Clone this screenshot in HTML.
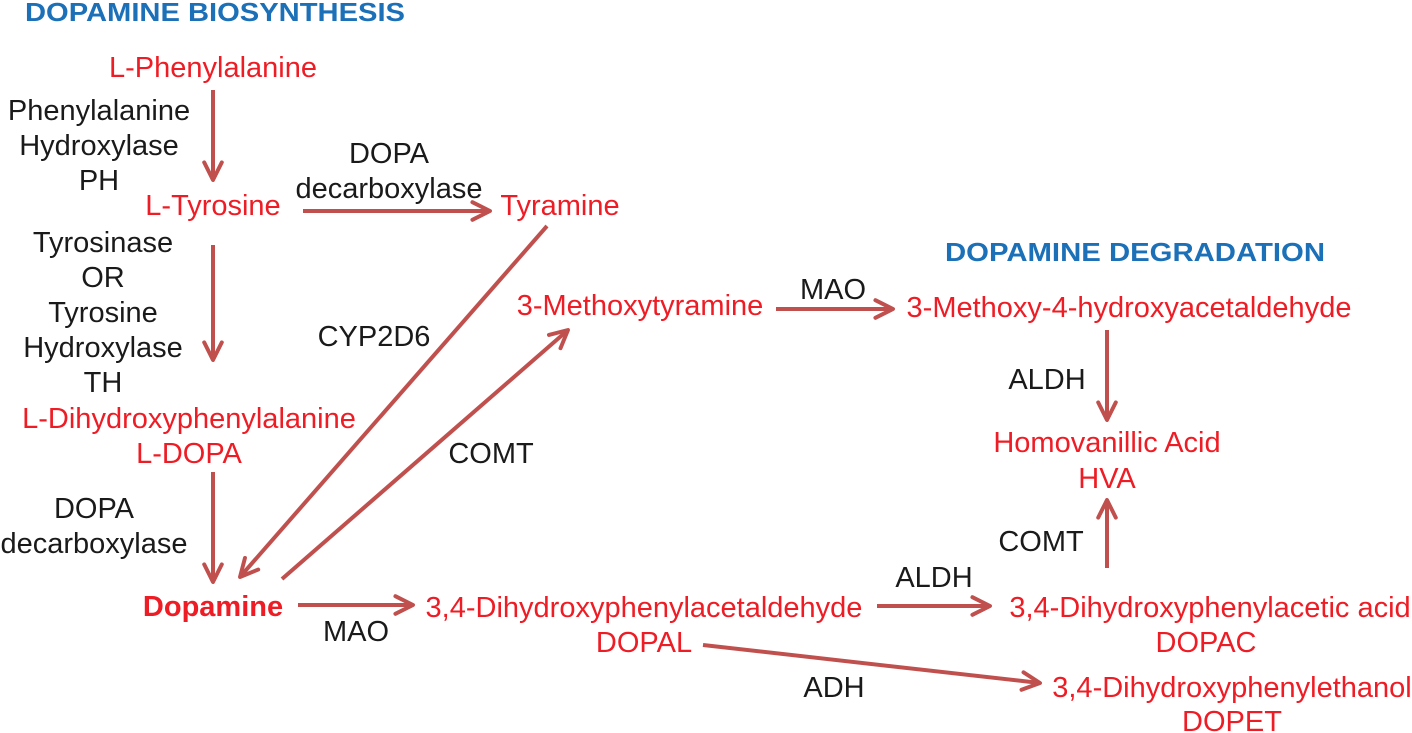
<!DOCTYPE html>
<html><head><meta charset="utf-8"><style>
html,body{margin:0;padding:0;background:#fff;}
svg{display:block;}
text{font-family:"Liberation Sans",Arial,sans-serif;font-size:29px;text-anchor:middle;dominant-baseline:central;}
.r{fill:#ee1c24;}
.k{fill:#1a1a1a;}
.b{fill:#1b70b8;font-weight:bold;font-size:26px;}
line{stroke:#c0504d;stroke-width:4;}
</style></head><body>
<svg width="1412" height="733" viewBox="0 0 1412 733">
<defs><marker id="a" viewBox="0 0 10 10" refX="9" refY="5" markerWidth="5.5" markerHeight="5.5" orient="auto" markerUnits="strokeWidth"><path d="M1,1 L9,5 L1,9" fill="none" stroke="#c0504d" stroke-width="1.8" stroke-linecap="round" stroke-linejoin="round"/></marker></defs>
<text class="b" x="215" y="12" textLength="380" lengthAdjust="spacingAndGlyphs">DOPAMINE BIOSYNTHESIS</text>
<text class="b" x="1135" y="252" textLength="380" lengthAdjust="spacingAndGlyphs">DOPAMINE DEGRADATION</text>
<text class="r" x="213" y="68">L-Phenylalanine</text>
<text class="k" x="99" y="111">Phenylalanine</text>
<text class="k" x="99" y="146">Hydroxylase</text>
<text class="k" x="99" y="181">PH</text>
<text class="r" x="213" y="206">L-Tyrosine</text>
<text class="k" x="389" y="154">DOPA</text>
<text class="k" x="389" y="189">decarboxylase</text>
<text class="r" x="560" y="206">Tyramine</text>
<text class="k" x="103" y="243">Tyrosinase</text>
<text class="k" x="103" y="278">OR</text>
<text class="k" x="103" y="313">Tyrosine</text>
<text class="k" x="103" y="348">Hydroxylase</text>
<text class="k" x="103" y="383">TH</text>
<text class="r" x="189" y="419">L-Dihydroxyphenylalanine</text>
<text class="r" x="189" y="454">L-DOPA</text>
<text class="k" x="94" y="509">DOPA</text>
<text class="k" x="94" y="544">decarboxylase</text>
<text class="r" x="213" y="607" style="font-weight:bold">Dopamine</text>
<text class="k" x="374" y="337">CYP2D6</text>
<text class="k" x="491" y="454">COMT</text>
<text class="r" x="640" y="306">3-Methoxytyramine</text>
<text class="k" x="833" y="290">MAO</text>
<text class="r" x="1129" y="308">3-Methoxy-4-hydroxyacetaldehyde</text>
<text class="k" x="1047" y="380">ALDH</text>
<text class="r" x="1107" y="443">Homovanillic Acid</text>
<text class="r" x="1107" y="479">HVA</text>
<text class="k" x="1041" y="542">COMT</text>
<text class="k" x="934" y="578">ALDH</text>
<text class="r" x="644" y="608">3,4-Dihydroxyphenylacetaldehyde</text>
<text class="r" x="644" y="643">DOPAL</text>
<text class="k" x="356" y="632">MAO</text>
<text class="r" x="1210" y="608">3,4-Dihydroxyphenylacetic acid</text>
<text class="r" x="1206" y="643">DOPAC</text>
<text class="k" x="834" y="688">ADH</text>
<text class="r" x="1232" y="688">3,4-Dihydroxyphenylethanol</text>
<text class="r" x="1232" y="722">DOPET</text>
<line x1="213" y1="90" x2="213" y2="180" marker-end="url(#a)"/>
<line x1="303" y1="211" x2="490" y2="211" marker-end="url(#a)"/>
<line x1="213" y1="245" x2="213" y2="360" marker-end="url(#a)"/>
<line x1="213" y1="472" x2="213" y2="582" marker-end="url(#a)"/>
<line x1="547" y1="226" x2="240" y2="577" marker-end="url(#a)"/>
<line x1="282" y1="579" x2="568" y2="330" marker-end="url(#a)"/>
<line x1="298" y1="605" x2="413" y2="605" marker-end="url(#a)"/>
<line x1="776" y1="309" x2="893" y2="309" marker-end="url(#a)"/>
<line x1="1107" y1="330" x2="1107" y2="420" marker-end="url(#a)"/>
<line x1="1107" y1="568" x2="1107" y2="500" marker-end="url(#a)"/>
<line x1="877" y1="606" x2="990" y2="606" marker-end="url(#a)"/>
<line x1="703" y1="645" x2="1040" y2="683" marker-end="url(#a)"/>
</svg>
</body></html>
